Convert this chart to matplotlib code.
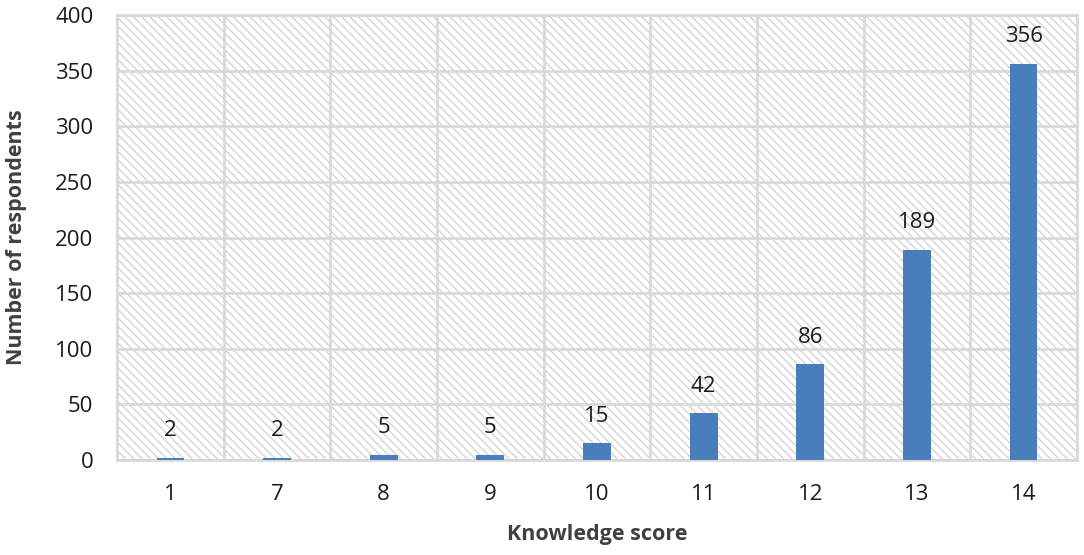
import matplotlib
matplotlib.use("Agg")
import matplotlib.pyplot as plt
from matplotlib.patches import Rectangle

plt.rcParams["font.family"] = ["Open Sans", "DejaVu Sans"]
plt.rcParams["hatch.linewidth"] = 0.9

scores = ["1", "7", "8", "9", "10", "11", "12", "13", "14"]
respondents = [2, 2, 5, 5, 15, 42, 86, 189, 356]

grid_color = "#d9d9d9"
bar_color = "#4a7ebb"

fig = plt.figure(figsize=(10.84, 5.55), dpi=100)
ax = fig.add_axes([0.108, 0.171, 0.8855, 0.802])

# hatched plot background, like the Excel pattern fill
ax.add_patch(Rectangle((0, 0), 1, 1, transform=ax.transAxes, fill=False,
                       hatch="\\\\\\\\", edgecolor="#d0d0d0", linewidth=0, zorder=0))

x = list(range(len(scores)))
ax.bar(x, respondents, width=0.26, color=bar_color, zorder=3)

for xi, v in zip(x, respondents):
    ax.annotate(str(v), (xi, v), xytext=(0, 12), textcoords="offset points",
                ha="center", va="bottom", fontsize=16, color="#1a1a1a")

ax.set_xlim(-0.5, len(scores) - 0.5)
ax.set_ylim(0, 400)
ax.set_yticks(range(0, 401, 50))
ax.set_xticks(x)
ax.set_xticklabels(scores)
ax.set_xticks([i + 0.5 for i in x[:-1]], minor=True)

ax.grid(axis="y", which="major", color=grid_color, linewidth=2, zorder=1)
ax.grid(axis="x", which="minor", color=grid_color, linewidth=2, zorder=1)
ax.grid(axis="x", which="major", visible=False)
ax.set_axisbelow(True)

for s in ax.spines.values():
    s.set_color(grid_color)
    s.set_linewidth(2)

ax.tick_params(axis="both", which="both", length=0, labelsize=16, colors="#1a1a1a")
ax.tick_params(axis="y", pad=17)
ax.tick_params(axis="x", pad=17)

ax.set_xlabel("Knowledge score", fontsize=15.5, fontweight="bold", color="#404040", labelpad=14)
ax.set_ylabel("Number of respondents", fontsize=15.5, fontweight="bold", color="#404040", labelpad=20)

fig.savefig("out.png", dpi=100)
